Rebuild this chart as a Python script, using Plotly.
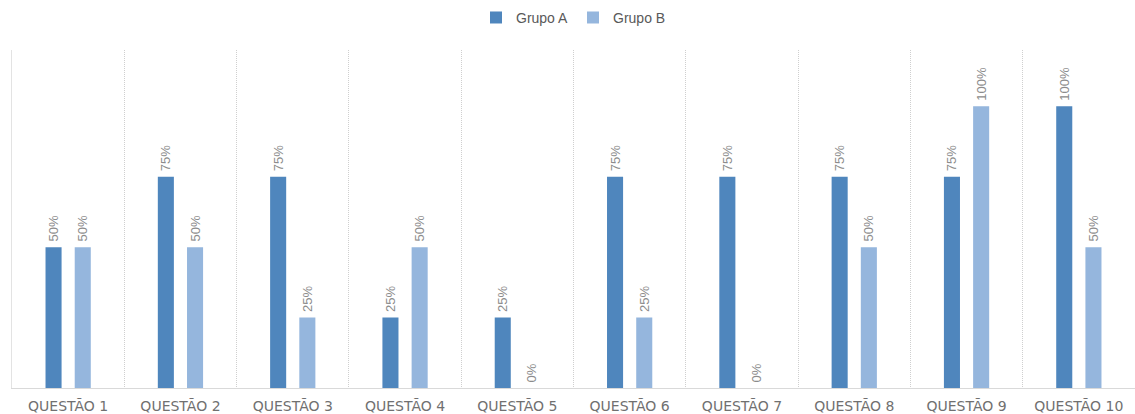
import plotly.graph_objects as go

categories = ["QUESTÃO 1", "QUESTÃO 2", "QUESTÃO 3", "QUESTÃO 4", "QUESTÃO 5",
              "QUESTÃO 6", "QUESTÃO 7", "QUESTÃO 8", "QUESTÃO 9", "QUESTÃO 10"]
grupo_a = [0.50, 0.75, 0.75, 0.25, 0.25, 0.75, 0.75, 0.75, 0.75, 1.00]
grupo_b = [0.50, 0.50, 0.25, 0.50, 0.00, 0.25, 0.00, 0.50, 1.00, 0.50]

color_a = "#4F86BD"
color_b = "#95B6DD"
label_font = dict(family="Liberation Sans, Arial, sans-serif", size=13, color="#8C8C8C")

fig = go.Figure()
for name, vals, col in [("Grupo A", grupo_a, color_a), ("Grupo B", grupo_b, color_b)]:
    fig.add_trace(go.Bar(
        name=name, x=categories, y=vals, marker=dict(color=col, line=dict(width=0)),
        texttemplate="\u2009%{y:.0%}", textposition="outside", textangle=-90,
        textfont=label_font, cliponaxis=False, constraintext="none",
        hoverinfo="skip",
    ))

fig.update_layout(
    width=1135, height=414,
    margin=dict(l=12, r=0, t=50, b=26),
    paper_bgcolor="white", plot_bgcolor="white",
    barmode="group", bargap=0.48, bargroupgap=0.45,
    showlegend=True,
    legend=dict(orientation="h", x=0.5, xanchor="center", y=1.095, yanchor="middle",
                font=dict(family="Liberation Sans, Arial, sans-serif", size=14, color="#595959"),
                itemwidth=30, traceorder="normal"),
    xaxis=dict(
        type="category", tickson="boundaries", showgrid=True, gridcolor="#CFCFCF",
        griddash="1px,1px", gridwidth=1, showline=True, linecolor="#D9D9D9", linewidth=1,
        ticks="", ticklabelstandoff=5, automargin=False,
        tickfont=dict(family="DejaVu Sans, sans-serif", size=14, color="#707070"),
    ),
    yaxis=dict(range=[0, 1.2], showgrid=False, showticklabels=False, zeroline=False,
               showline=True, linecolor="#E3E3E3", linewidth=1, ticks="", automargin=False),
)

fig.write_html("out.html")
